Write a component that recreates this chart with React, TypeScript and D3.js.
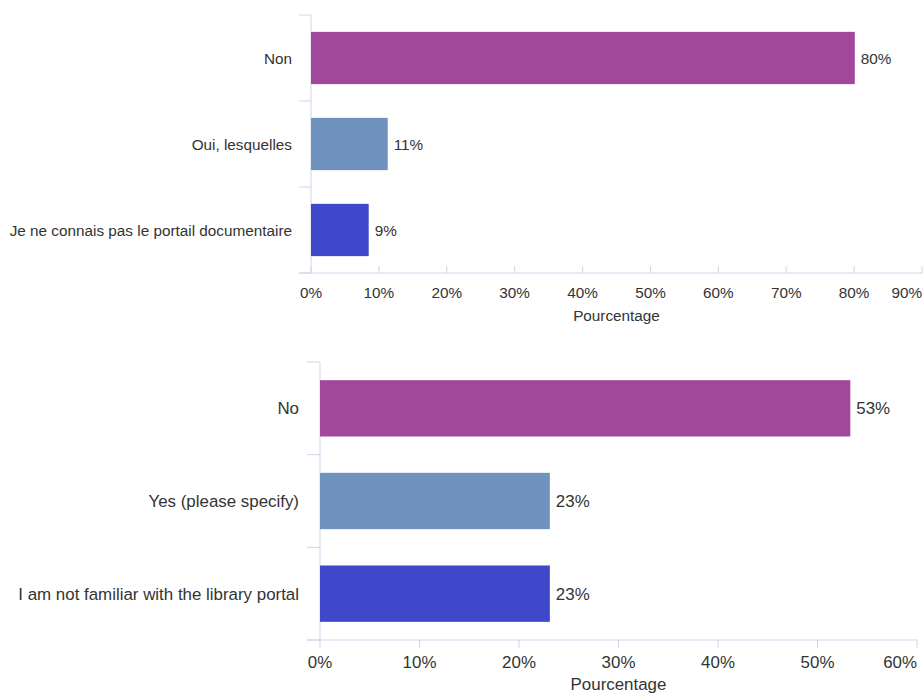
import React from "react";
import * as d3 from "d3";

const categoriesFr = ["Non", "Oui, lesquelles", "Je ne connais pas le portail documentaire"];
const valuesFr = [80.1, 11.3, 8.5];
const ticksFr = [0, 10, 20, 30, 40, 50, 60, 70, 80, 90];

const categoriesEn = ["No", "Yes (please specify)", "I am not familiar with the library portal"];
const valuesEn = [53.3, 23.1, 23.1];
const ticksEn = [0, 10, 20, 30, 40, 50, 60];

const barColors = ["#A1489D", "#7092BF", "#3F48CB"];
const axisTitle = "Pourcentage";

const W = 923;
const H = 695;
const AXIS = "#ccd6eb";
const TEXT = "#333333";
const FONT = "'Liberation Sans', Arial, sans-serif";

type ChartProps = {
  cats: string[];
  vals: number[];
  ticks: number[];
  x0: number;
  x1: number;
  y0: number;
  y1: number;
  fs: number;
  tickDir: number;
  tickLen: number;
  tickLabelY: number;
  titleY: number;
  catLabelX: number;
  yTickX: number;
};

function Chart(p: ChartProps) {
  const x = d3.scaleLinear().domain([p.ticks[0], p.ticks[p.ticks.length - 1]]).range([p.x0, p.x1]);
  const y = d3.scaleBand<string>().domain(p.cats).range([p.y0, p.y1]).paddingInner(0.392).paddingOuter(0.196);
  const step = y.step();
  const bounds = d3.range(p.cats.length + 1).map((i) => p.y0 + i * step);
  return (
    <g fontFamily={FONT}>
      <line x1={p.x0} x2={p.x0} y1={p.y0} y2={p.y1} stroke={AXIS} strokeWidth={1} />
      {bounds.map((b, i) => (
        <line key={"yt" + i} x1={p.yTickX} x2={p.x0} y1={b} y2={b} stroke={AXIS} strokeWidth={1} />
      ))}
      <line x1={p.yTickX} x2={p.x1 + 1} y1={p.y1} y2={p.y1} stroke={AXIS} strokeWidth={1} />
      {p.ticks.map((t) => (
        <line key={"xt" + t} x1={x(t)} x2={x(t)} y1={p.y1} y2={p.y1 + p.tickDir * p.tickLen} stroke={AXIS} strokeWidth={1} />
      ))}
      {p.ticks.map((t) => {
        const label = `${t}%`;
        const halfW = p.fs * 0.72 * (label.length === 2 ? 1 : 1.385);
        const cx = x(t);
        const overflow = cx + halfW > W;
        return (
          <text
            key={"xl" + t}
            x={overflow ? Math.min(cx, W) : cx}
            y={p.tickLabelY}
            textAnchor={overflow ? "end" : "middle"}
            fontSize={p.fs}
            fill={TEXT}
          >
            {label}
          </text>
        );
      })}
      <text x={(p.x0 + p.x1) / 2} y={p.titleY} textAnchor="middle" fontSize={p.fs} fill={TEXT}>
        {axisTitle}
      </text>
      {p.cats.map((c, i) => {
        const by = y(c) as number;
        const bw = y.bandwidth();
        return (
          <g key={c}>
            <rect x={x(0)} y={by} width={x(p.vals[i]) - x(0)} height={bw} fill={barColors[i]} />
            <text x={p.catLabelX} y={by + bw / 2} dy="0.36em" textAnchor="end" fontSize={p.fs} fill={TEXT}>
              {c}
            </text>
            <text x={x(p.vals[i]) + 6} y={by + bw / 2} dy="0.36em" textAnchor="start" fontSize={p.fs} fill={TEXT}>
              {`${Math.round(p.vals[i])}%`}
            </text>
          </g>
        );
      })}
    </g>
  );
}

export default function App() {
  return (
    <div style={{ position: "absolute", left: 0, top: 0, width: W, height: H, background: "#fff" }}>
      <svg width={W} height={H} style={{ display: "block" }}>
        <rect width={W} height={H} fill="#ffffff" />
        <Chart
          cats={categoriesFr}
          vals={valuesFr}
          ticks={ticksFr}
          x0={311}
          x1={922}
          y0={15}
          y1={273}
          fs={15.3}
          tickDir={-1}
          tickLen={7}
          tickLabelY={298}
          titleY={321}
          catLabelX={292}
          yTickX={299}
        />
        <Chart
          cats={categoriesEn}
          vals={valuesEn}
          ticks={ticksEn}
          x0={320}
          x1={917}
          y0={362}
          y1={640}
          fs={16.9}
          tickDir={1}
          tickLen={8}
          tickLabelY={668}
          titleY={690}
          catLabelX={299}
          yTickX={307}
        />
      </svg>
    </div>
  );
}
